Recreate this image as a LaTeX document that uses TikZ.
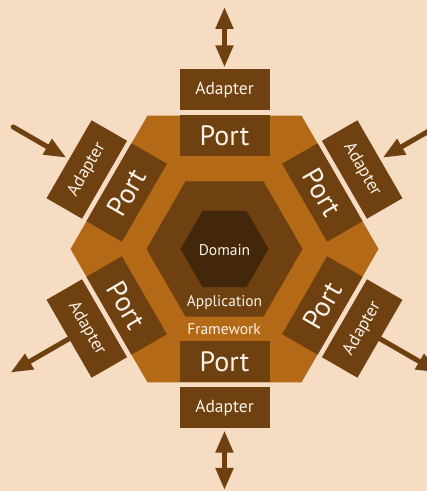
\documentclass[tikz,border=0pt]{standalone}
\usepackage{fontspec}
\setmainfont{PT Sans}
\usetikzlibrary{arrows.meta,calc}
\definecolor{bgc}{RGB}{245,220,194}
\definecolor{outerc}{RGB}{179,105,22}
\definecolor{boxc}{RGB}{111,65,17}
\definecolor{innerc}{RGB}{67,39,10}
\definecolor{txtc}{RGB}{250,242,232}
\tikzset{
  portbox/.style={fill=boxc,minimum width=90pt,minimum height=41pt,inner sep=0pt,text=txtc,font=\fontsize{28}{28}\selectfont},
  adapterbox/.style={fill=boxc,minimum width=90pt,minimum height=41pt,inner sep=0pt,text=txtc,font=\fontsize{17.5}{17.5}\selectfont},
  lbl/.style={text=txtc,inner sep=0pt,font=\fontsize{15.5}{15.5}\selectfont},
  arr/.style={draw=boxc,line width=5pt,line cap=round,-{Triangle[length=22pt,width=17pt]}},
  darr/.style={draw=boxc,line width=5pt,{Triangle[length=22pt,width=17pt]}-{Triangle[length=22pt,width=17pt]}}
}
\begin{document}
\begin{tikzpicture}[x=1pt,y=1pt]
\useasboundingbox (0,0) rectangle (427,491);
\clip (0,0) rectangle (427,491);
\fill[bgc] (0,0) rectangle (427,491);
\coordinate (C) at (224.5,242);
% hexagons
\fill[outerc] ($(C)+(0:154)$) -- ($(C)+(60:154)$) -- ($(C)+(120:154)$) -- ($(C)+(180:154)$) -- ($(C)+(240:154)$) -- ($(C)+(300:154)$) -- cycle;
\fill[boxc] ($(C)+(0:78)$) -- ($(C)+(60:78)$) -- ($(C)+(120:78)$) -- ($(C)+(180:78)$) -- ($(C)+(240:78)$) -- ($(C)+(300:78)$) -- cycle;
\fill[innerc] ($(C)+(0:44)$) -- ($(C)+(60:44)$) -- ($(C)+(120:44)$) -- ($(C)+(180:44)$) -- ($(C)+(240:44)$) -- ($(C)+(300:44)$) -- cycle;
% labels
\node[lbl] (dom) at (224.5,241) {Domain};
\node[lbl] (app) at (224.5,188) {Application};
\node[lbl] (fw) at (224,162) {Framework};
% ports
\node[portbox] (pT) at ($(C)+(90:113)$) {Port};
\node[portbox] (pB) at ($(C)+(270:113)$) {Port};
\node[portbox,rotate=60] (pUL) at ($(C)+(150:113)$) {Port};
\node[portbox,rotate=-60] (pUR) at ($(C)+(30:113)$) {Port};
\node[portbox,rotate=-60] (pLL) at ($(C)+(210:113)$) {Port};
\node[portbox,rotate=60] (pLR) at ($(C)+(330:113)$) {Port};
% adapters
\node[adapterbox] (aT) at ($(C)+(90:159)$) {Adapter};
\node[adapterbox] (aB) at ($(C)+(270:159)$) {Adapter};
\node[adapterbox,rotate=60] (aUL) at ($(C)+(150:159)$) {Adapter};
\node[adapterbox,rotate=-60] (aUR) at ($(C)+(30:159)$) {Adapter};
\node[adapterbox,rotate=-60] (aLL) at ($(C)+(210:159)$) {Adapter};
\node[adapterbox,rotate=60] (aLR) at ($(C)+(330:159)$) {Adapter};
% free ends
\coordinate (eT) at (224.5,484);
\coordinate (eB) at (224.5,1);
\coordinate (eUL) at ($(C)+(150:244)$);
\coordinate (eUR) at ($(C)+(30:241)$);
\coordinate (eLL) at ($(C)+(210:247)$);
\coordinate (eLR) at ($(C)+(330:247)$);
% arrows
\draw[darr,shorten <=2pt] (aT) -- (eT);
\draw[darr,shorten <=2pt] (aB) -- (eB);
\draw[arr,shorten >=3pt] (eUL) -- (aUL);
\draw[arr,shorten >=3pt] (eUR) -- (aUR);
\draw[arr] (aLL) -- (eLL);
\draw[arr] (aLR) -- (eLR);
\end{tikzpicture}
\end{document}
